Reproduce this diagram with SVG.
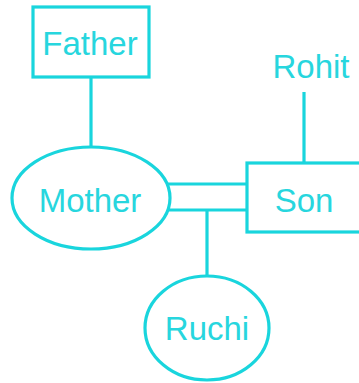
<svg xmlns="http://www.w3.org/2000/svg" width="359" height="383" viewBox="0 0 359 383">
<style>
.s{fill:none;stroke:#19d5dd;stroke-width:3.2}
.t{font-family:"Liberation Sans",Arial,sans-serif;font-size:33px;fill:#27d6de;text-anchor:middle}
</style>
<rect width="359" height="383" fill="#ffffff"/>
<g id="connectors">
<line class="s" x1="91" y1="77" x2="91" y2="147"/>
<line class="s" x1="304" y1="92" x2="304" y2="163"/>
<line class="s" x1="168" y1="184" x2="247" y2="184"/>
<line class="s" x1="168" y1="210" x2="247" y2="210"/>
<line class="s" x1="207" y1="210" x2="207" y2="276"/>
</g>
<g id="father">
<rect class="s" x="33" y="7" width="116" height="70"/>
<text class="t" x="90" y="55">Father</text>
</g>
<g id="rohit">
<text class="t" x="311" y="78">Rohit</text>
</g>
<g id="mother">
<ellipse class="s" cx="91" cy="198" rx="79" ry="51"/>
<text class="t" x="90" y="212">Mother</text>
</g>
<g id="son">
<rect class="s" x="247" y="163" width="120" height="69"/>
<text class="t" x="304" y="212">Son</text>
</g>
<g id="ruchi">
<ellipse class="s" cx="207" cy="328" rx="62" ry="52"/>
<text class="t" x="207" y="340">Ruchi</text>
</g>
</svg>
